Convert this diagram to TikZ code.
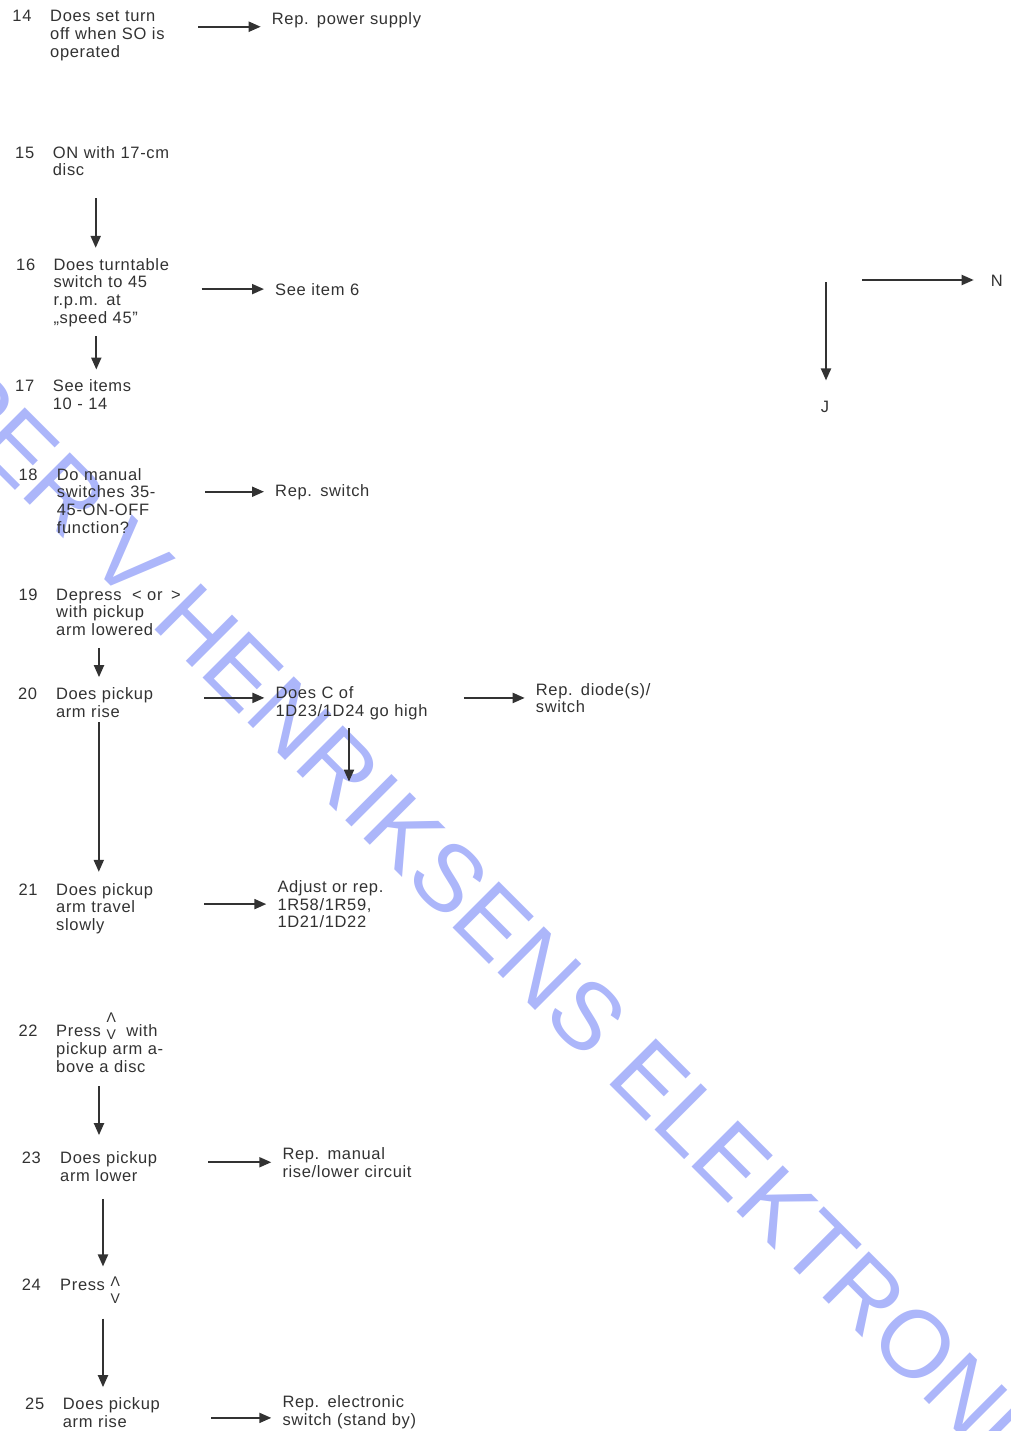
\documentclass[tikz,border=0pt]{standalone}
\usepackage{fontspec}
\setmainfont{Liberation Sans}[LetterSpace=4]
\newfontfamily\stampfont{Liberation Sans}
\usetikzlibrary{arrows.meta}
\definecolor{ink}{RGB}{50,50,50}
\definecolor{stampblue}{RGB}{172,182,250}
\newcommand{\itemfont}{\fontsize{16.5pt}{17.7pt}\selectfont}
\newcommand{\keypair}[1]{\raisebox{#1}{\fontsize{14pt}{14pt}\selectfont\ooalign{\raisebox{17pt}{Λ}\cr V\cr}}}

\begin{document}
\begin{tikzpicture}[
    x=1pt, y=-1pt,
    txt/.style={anchor=base west, inner sep=0pt, align=left, font=\itemfont, text=ink},
    num/.style={txt},
    ask/.style={txt, text width=135pt},
    fixbox/.style={txt, text width=200pt},
    arr/.style={-{Triangle[length=12pt,width=10pt]}, line width=2pt, draw=ink},
    goright/.style={arr, shorten <=13pt, shorten >=11pt},
    godown/.style={arr, shorten <=12pt, shorten >=10pt},
    stamp/.style={anchor=base west, inner sep=0pt, rotate=-45, text=stampblue, font=\stampfont\fontsize{95pt}{95pt}\selectfont}
]
\useasboundingbox (0,0) rectangle (1011,1431);

% watermark under everything
\node[stamp] (mark) at (-71,404) {PER V HENRIKSENS ELEKTRONIK};

% item numbers
\foreach \n/\x/\y in {14/12.3/21.7, 15/15/158.3, 16/16/270, 17/15/391.7, 18/18.3/480, 19/18.3/600,
    20/17.9/699.3, 21/18.3/895, 22/18.3/1036.7, 23/21.7/1163.3, 24/21.7/1290, 25/25/1409.3}
    \node[num] (n\n) at (\x,\y) {\n};

% questions
\node[ask] (q14) at (50,21.7) {Does set turn\\off when SO is\\operated};
\node[ask] (q15) at (52.7,158.3) {ON with 17-cm\\disc};
\node[ask] (q16) at (53.3,270) {Does turntable\\switch to 45\\r.p.m. at\\,,speed 45''};
\node[ask] (q17) at (52.7,391.7) {See items\\10 - 14};
\node[ask] (q18) at (56.7,480) {Do manual\\switches 35-\\45-ON-OFF\\function?};
\node[ask] (q19) at (56,600) {Depress\hspace{5pt} < or\hspace{3pt} >\\with pickup\\arm lowered};
\node[ask] (q20) at (55.8,699.3) {Does pickup\\arm rise};
\node[ask] (q21) at (56,895) {Does pickup\\arm travel\\slowly};
\node[ask] (q22) at (56,1036.7) {Press \keypair{-2.5pt}\hspace{5pt} with\\pickup arm a-\\bove a disc};
\node[ask] (q23) at (60,1163.3) {Does pickup\\arm lower};
\node[ask] (q24) at (60,1290) {Press \keypair{-13.3pt}};
\node[ask] (q25) at (62.7,1409.3) {Does pickup\\arm rise};

% answers
\node[fixbox] (r14) at (271.7,25) {Rep. power supply};
\node[fixbox] (r16) at (275,295) {See item 6};
\node[fixbox] (r18) at (275,496) {Rep. switch};
\node[fixbox, text width=157pt] (c20) at (275.4,698.3) {Does C of\\1D23/1D24 go high};
\node[fixbox] (r20) at (535.7,695) {Rep. diode(s)/\\switch};
\node[fixbox] (r21) at (277.3,892.3) {Adjust or rep.\\1R58/1R59,\\1D21/1D22};
\node[fixbox] (r23) at (282.3,1159.3) {Rep. manual\\rise/lower circuit};
\node[fixbox] (r25) at (282.3,1407.3) {Rep. electronic\\switch (stand by)};
\node[txt] (nN) at (990.7,286) {N};
\node[txt] (nJ) at (820.7,412.7) {J};
\coordinate (fork) at (826,280);
\coordinate (c20tail) at ([xshift=73.6pt,yshift=-62pt]c20.south west);

% yes/no branches to the right
\draw[goright] ([yshift=-6pt]q14.east |- r14.west) -- ([yshift=-6pt]r14.west);
\draw[goright] (q16.east |- r16.west) -- (r16.west);
\draw[goright] (q18.east |- r18.west) -- (r18.west);
\draw[goright] ([yshift=5pt]q20.east |- c20.west) -- ([yshift=5pt]c20.west);
\draw[goright, shorten <=31pt] (c20.east |- r20.west) -- (r20.west);
\draw[goright] (q21.east |- r21.west) -- (r21.west);
\draw[goright] (q23.east |- r23.west) -- (r23.west);
\draw[goright] ([yshift=-6pt]q25.east |- r25.west) -- ([yshift=-6pt]r25.west);
\draw[arr, shorten >=17pt] ([xshift=36pt]fork) -- (nN.west |- fork);

% downward steps
\draw[godown, shorten <=22pt] ([xshift=43pt]q15.south west) -- ([xshift=43pt]q15.south west |- q16.north);
\draw[godown, shorten <=9.5pt] ([xshift=43pt]q16.south west) -- ([xshift=43pt]q16.south west |- q17.north);
\draw[godown] ([xshift=43pt]q19.south west) -- ([xshift=43pt]q19.south west |- q20.north);
\draw[godown, shorten <=5pt, shorten >=11pt] ([xshift=43pt]q20.south west) -- ([xshift=43pt]q20.south west |- q21.north);
\draw[godown, shorten <=14pt, shorten >=16pt] ([xshift=43pt]q22.south west) -- ([xshift=43pt]q22.south west |- q23.north);
\draw[godown, shorten <=17.6pt] ([xshift=43pt]q23.south west) -- ([xshift=43pt]q23.south west |- q24.north);
\draw[godown, shorten <=15pt] ([xshift=43pt]q24.south west) -- ([xshift=43pt]q24.south west |- q25.north);
\draw[arr, shorten <=8.5pt] ([xshift=73.6pt]c20.south west) -- (c20tail);
\draw[arr, shorten <=2pt, shorten >=20.7pt] (fork) -- (fork |- nJ.north);
\end{tikzpicture}
\end{document}
